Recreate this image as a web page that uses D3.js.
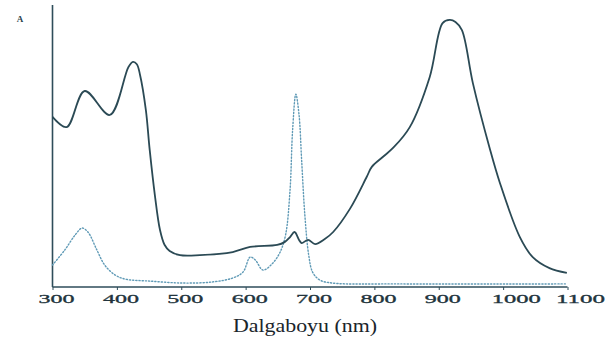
<!DOCTYPE html>
<html><head><meta charset="utf-8">
<script src="https://cdn.jsdelivr.net/npm/d3@7"></script>
<style>html,body{margin:0;padding:0;background:#fff;}svg{display:block;}</style>
</head><body>
<svg id="c" width="606" height="345"></svg>
<script>
// Wavelength (nm) and absorbance (relative units) for the solid curve
const solidWl = [300,322,350,389,418,425,431,436,445,451,459,467,474,482,498,529,580,607,649,661,669,676,683,687,697,708,723,736,762,788,796,813,829,855,886,906,917,926,936,953,979,995,1026,1046,1072,1099];
const solidAbs = [0.603,0.567,0.695,0.610,0.780,0.798,0.790,0.752,0.628,0.486,0.326,0.202,0.150,0.128,0.113,0.113,0.124,0.142,0.149,0.160,0.177,0.195,0.167,0.156,0.167,0.152,0.170,0.195,0.277,0.390,0.426,0.461,0.493,0.567,0.745,0.936,0.947,0.940,0.911,0.723,0.493,0.369,0.177,0.106,0.067,0.050];
// Dotted curve
const dotWl = [300,319,335,346,355,369,381,397,413,451,503,549,580,596,607,615,627,641,653,662,669,673,678,683,687,692,698,704,715,735,840,1099];
const dotAbs = [0.078,0.131,0.184,0.209,0.195,0.131,0.078,0.043,0.028,0.021,0.014,0.018,0.032,0.053,0.106,0.096,0.060,0.082,0.121,0.184,0.344,0.557,0.684,0.610,0.450,0.255,0.113,0.053,0.025,0.014,0.011,0.011];
const xTicks = [300,400,500,600,700,800,900,1000,1100];
const xTitle = "Dalgaboyu (nm)";
const panelLabel = "A";

const svg = d3.select("#c");
const x = d3.scaleLinear().domain([300,1100]).range([52.5,567.5]);
const y = d3.scaleLinear().domain([0,1]).range([287,5]);
const axisCol = "#2e4d5a";

svg.append("line").attr("x1",x(300)).attr("x2",x(300)).attr("y1",y(1)).attr("y2",y(0))
  .attr("stroke",axisCol).attr("stroke-width",1.6);
const xa = svg.append("g").attr("transform",`translate(0,${y(0)})`)
  .call(d3.axisBottom(x).tickValues(xTicks).tickSize(3).tickFormat(""));
xa.select(".domain").attr("stroke",axisCol).attr("stroke-width",1.6).attr("d",`M${x(300)},0H${x(1100)}`);
xa.selectAll(".tick line").attr("stroke",axisCol).attr("stroke-width",1);

svg.append("g").selectAll("text").data(xTicks).join("text")
  .attr("x",d=>x(d)+(d>=1000?13:4)).attr("y",303)
  .attr("text-anchor","middle")
  .attr("font-family","Liberation Serif, serif").attr("font-size",12)
  .attr("fill","#22343d").attr("stroke","#22343d").attr("stroke-width",0.3)
  .attr("textLength",d=>d>=1000?49:36).attr("lengthAdjust","spacingAndGlyphs")
  .text(d=>d);

svg.append("text").attr("x",305).attr("y",332).attr("text-anchor","middle")
  .attr("font-family","Liberation Serif, serif").attr("font-size",18).attr("fill","#1a252b")
  .attr("textLength",144).attr("lengthAdjust","spacingAndGlyphs").text(xTitle);

svg.append("text").attr("x",20).attr("y",22).attr("text-anchor","middle")
  .attr("font-family","Liberation Serif, serif").attr("font-size",9).attr("font-weight","bold")
  .attr("fill","#2b3f4a").text(panelLabel);

const line = d3.line().x(d=>x(d[0])).y(d=>y(d[1])).curve(d3.curveCatmullRom.alpha(0.5));

svg.append("path").datum(dotWl.map((w,i)=>[w,dotAbs[i]]))
  .attr("d",line).attr("fill","none").attr("stroke","#5f9ab6").attr("stroke-width",1.4)
  .attr("stroke-dasharray","1.2,2").attr("stroke-linecap","round");

svg.append("path").datum(solidWl.map((w,i)=>[w,solidAbs[i]]))
  .attr("d",line).attr("fill","none").attr("stroke","#2b4a55").attr("stroke-width",1.8);
</script>
</body></html>
